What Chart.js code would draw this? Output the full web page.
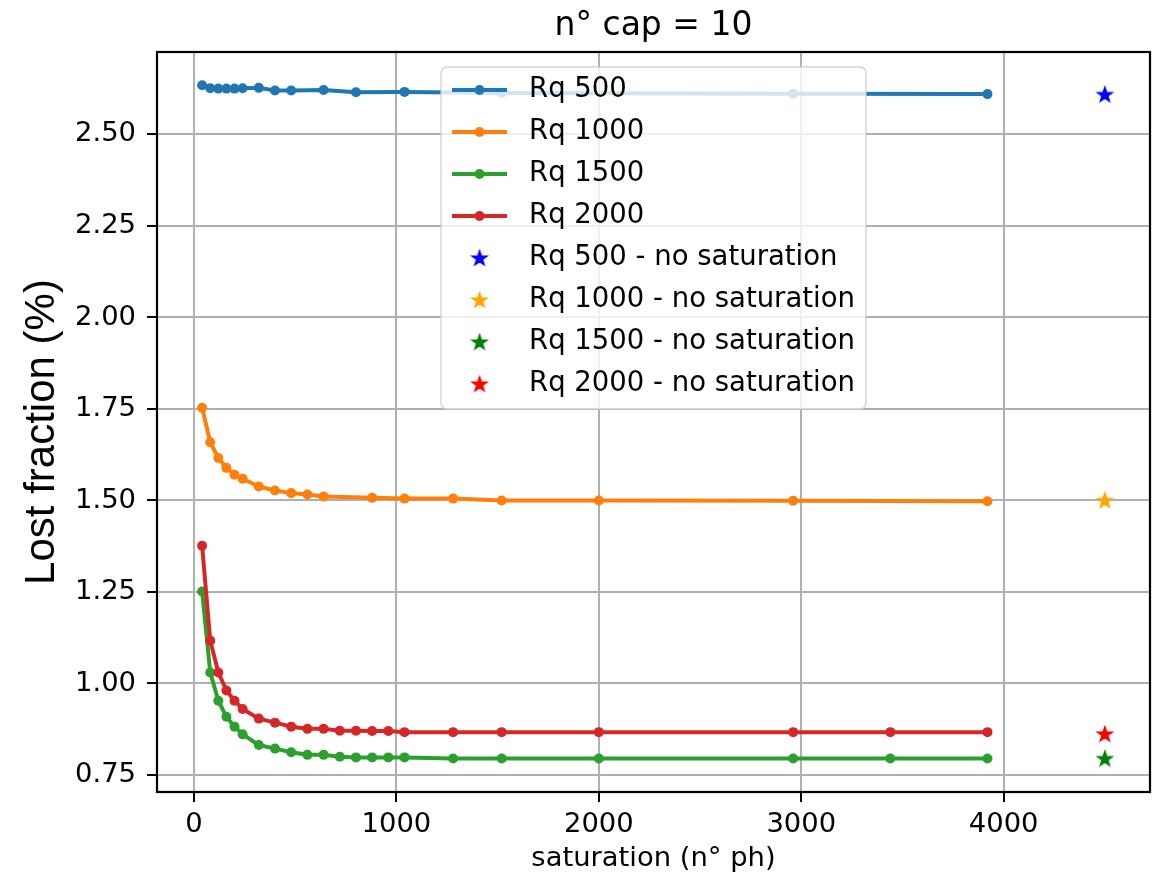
<!DOCTYPE html>
<html>
<head>
<meta charset="utf-8">
<script src="https://cdn.jsdelivr.net/npm/chart.js@4.4.1/dist/chart.umd.min.js"></script>
<style>
  html, body { margin: 0; padding: 0; background: #fff; }
  #wrap { width: 1161px; height: 880px; }
</style>
</head>
<body>
<div id="wrap"><canvas id="chart" width="1161" height="880"></canvas></div>
<script>
'use strict';

var titleText = 'n° cap = 10';
var xLabel = 'saturation (n° ph)';
var yLabel = 'Lost fraction (%)';

var xTicks = [0, 1000, 2000, 3000, 4000];
var yTicks = [0.75, 1.00, 1.25, 1.50, 1.75, 2.00, 2.25, 2.50];
var xRange = [-183, 4723];
var yRange = [0.7035, 2.725];

// saturation points for each run
var rq500X = [40, 80, 120, 160, 200, 240, 320, 400, 480, 640, 800, 1040, 1520, 2960, 3920];
var rq500Y = [2.634, 2.626, 2.625, 2.625, 2.625, 2.626, 2.627, 2.620, 2.620, 2.621, 2.615, 2.616, 2.613, 2.611, 2.610];

var rq1000X = [40, 80, 120, 160, 200, 240, 320, 400, 480, 560, 640, 880, 1040, 1280, 1520, 2000, 2960, 3920];
var rq1000Y = [1.753, 1.659, 1.616, 1.589, 1.570, 1.559, 1.538, 1.527, 1.520, 1.516, 1.511, 1.507, 1.505, 1.505, 1.500, 1.500, 1.499, 1.498];

var rq1500X = [40, 80, 120, 160, 200, 240, 320, 400, 480, 560, 640, 720, 800, 880, 960, 1040, 1280, 1520, 2000, 2960, 3440, 3920];
var rq1500Y = [1.251, 1.030, 0.953, 0.909, 0.882, 0.861, 0.832, 0.822, 0.812, 0.805, 0.805, 0.800, 0.798, 0.798, 0.798, 0.798, 0.795, 0.795, 0.795, 0.795, 0.795, 0.795];

var rq2000X = [40, 80, 120, 160, 200, 240, 320, 400, 480, 560, 640, 720, 800, 880, 960, 1040, 1280, 1520, 2000, 2960, 3440, 3920];
var rq2000Y = [1.376, 1.117, 1.030, 0.981, 0.953, 0.930, 0.904, 0.893, 0.882, 0.876, 0.876, 0.871, 0.871, 0.870, 0.870, 0.867, 0.867, 0.867, 0.867, 0.867, 0.867, 0.867];

// no saturation reference values
var noSatX = 4500;
var noSatY = [2.609, 1.500, 0.795, 0.862];

var lineLabels = ['Rq 500', 'Rq 1000', 'Rq 1500', 'Rq 2000'];
var lineColors = ['#1f77b4', '#ff7f0e', '#2ca02c', '#d62728'];
var starColors = ['#0000ff', '#ffa500', '#008000', '#ff0000'];

var FONT = 'DejaVu Sans';

function pairs(xs, ys) {
    return xs.map(function(x, i) { return { x: x, y: ys[i] }; });
}

function starImage(color) {
    var c = document.createElement('canvas');
    c.width = 22;
    c.height = 22;
    var g = c.getContext('2d');
    g.beginPath();
    for (var i = 0; i < 10; i++) {
        var r = i % 2 === 0 ? 7.8 : 3.1;
        var a = -Math.PI / 2 + i * Math.PI / 5;
        var px = 11 + r * Math.cos(a), py = 11.5 + r * Math.sin(a);
        if (i === 0) g.moveTo(px, py); else g.lineTo(px, py);
    }
    g.closePath();
    g.fillStyle = color;
    g.fill();
    g.lineWidth = 1.4;
    g.strokeStyle = color;
    g.stroke();
    return c;
}

var lineXs = [rq500X, rq1000X, rq1500X, rq2000X];
var lineYs = [rq500Y, rq1000Y, rq1500Y, rq2000Y];

var datasets = [];
lineLabels.forEach(function(lbl, i) {
    datasets.push({
        label: lbl,
        data: pairs(lineXs[i], lineYs[i]),
        showLine: true,
        borderColor: lineColors[i],
        backgroundColor: lineColors[i],
        borderWidth: 4,
        pointRadius: 5,
        pointBorderWidth: 0,
        pointBackgroundColor: lineColors[i],
        borderJoinStyle: 'round',
        order: 20 - i
    });
});
lineLabels.forEach(function(lbl, i) {
    datasets.push({
        label: lbl + ' - no saturation',
        data: [{ x: noSatX, y: noSatY[i] }],
        showLine: false,
        pointStyle: starImage(starColors[i]),
        backgroundColor: starColors[i],
        borderColor: starColors[i],
        isStar: true,
        order: 10 - i
    });
});

// title and y label centred on the axes box, like matplotlib
var axesText = {
    id: 'axesText',
    afterDraw: function(chart) {
        var a = chart.chartArea, ctx = chart.ctx;
        ctx.save();
        ctx.fillStyle = '#000';
        ctx.textAlign = 'center';
        ctx.textBaseline = 'alphabetic';
        ctx.font = '33px "' + FONT + '"';
        ctx.fillText(titleText, (a.left + a.right) / 2, 35);

        ctx.translate(54, 432);
        ctx.rotate(-Math.PI / 2);
        ctx.font = '42px "Liberation Sans"';
        ctx.fillText(yLabel, 0, 0);
        ctx.restore();
    }
};

var frameBox = {
    id: 'frameBox',
    afterDatasetsDraw: function(chart) {
        var a = chart.chartArea, ctx = chart.ctx;
        ctx.save();
        ctx.strokeStyle = '#000';
        ctx.lineWidth = 2.2;
        ctx.strokeRect(a.left, a.top, a.right - a.left, a.bottom - a.top);
        ctx.restore();
    }
};

// matplotlib style legend drawn inside the plot, upper center
var innerLegend = {
    id: 'innerLegend',
    afterDraw: function(chart) {
        var ctx = chart.ctx, a = chart.chartArea;
        var fs = 27.5;
        ctx.save();
        ctx.font = fs + 'px "' + FONT + '"';
        var items = chart.data.datasets;
        var textW = 0;
        items.forEach(function(d) { textW = Math.max(textW, ctx.measureText(d.label).width); });
        var pad = 11, handleLen = 55, handlePad = 22, rowH = 42;
        var w = pad + handleLen + handlePad + textW + pad;
        var h = 23 + rowH * (items.length - 1) + 25;
        var left = (a.left + a.right) / 2 - w / 2;
        var top = a.top + 15;

        ctx.beginPath();
        ctx.roundRect(left, top, w, h, 6);
        ctx.fillStyle = 'rgba(255,255,255,0.8)';
        ctx.fill();
        ctx.lineWidth = 1.5;
        ctx.strokeStyle = 'rgba(204,204,204,0.8)';
        ctx.stroke();

        items.forEach(function(d, i) {
            var cy = top + 23 + rowH * i;
            var hx0 = left + pad, hx1 = hx0 + handleLen, hc = (hx0 + hx1) / 2;
            if (d.isStar) {
                var img = d.pointStyle;
                ctx.drawImage(img, hc - img.width / 2, cy - img.height / 2);
            } else {
                ctx.strokeStyle = d.borderColor;
                ctx.lineWidth = 4;
                ctx.beginPath();
                ctx.moveTo(hx0, cy);
                ctx.lineTo(hx1, cy);
                ctx.stroke();
                ctx.fillStyle = d.borderColor;
                ctx.beginPath();
                ctx.arc(hc, cy, 5, 0, Math.PI * 2);
                ctx.fill();
            }
            ctx.fillStyle = '#000';
            ctx.textBaseline = 'middle';
            ctx.textAlign = 'left';
            ctx.fillText(d.label, hx1 + handlePad, cy);
        });
        ctx.restore();
    }
};

var gridStyle = {
    color: '#b0b0b0',
    lineWidth: 2,
    tickColor: '#000',
    tickWidth: 2,
    tickLength: 10
};

new Chart(document.getElementById('chart'), {
    type: 'scatter',
    data: { datasets: datasets },
    plugins: [frameBox, axesText, innerLegend],
    options: {
        responsive: false,
        animation: false,
        events: [],
        layout: { padding: { left: 0, right: 11, top: 52, bottom: 0 } },
        plugins: {
            legend: { display: false },
            tooltip: { enabled: false },
            title: { display: false }
        },
        scales: {
            x: {
                type: 'linear',
                min: xRange[0],
                max: xRange[1],
                afterBuildTicks: function(s) { s.ticks = xTicks.map(function(v) { return { value: v }; }); },
                afterFit: function(s) { s.height = 88; },
                grid: gridStyle,
                border: { display: false },
                ticks: {
                    color: '#000',
                    font: { family: FONT, size: 27.4 },
                    padding: 6,
                    maxRotation: 0,
                    autoSkip: false,
                    callback: function(v) { return String(v); }
                },
                title: {
                    display: true,
                    text: xLabel,
                    color: '#000',
                    font: { family: FONT, size: 27.4 },
                    padding: { top: 0, bottom: 5 }
                }
            },
            y: {
                type: 'linear',
                min: yRange[0],
                max: yRange[1],
                afterBuildTicks: function(s) { s.ticks = yTicks.map(function(v) { return { value: v }; }); },
                afterFit: function(s) { s.width = 157; },
                grid: gridStyle,
                border: { display: false },
                ticks: {
                    color: '#000',
                    font: { family: FONT, size: 27.4 },
                    padding: 11,
                    autoSkip: false,
                    callback: function(v) { return v.toFixed(2); }
                },
                title: { display: false }
            }
        }
    }
});
</script>
</body>
</html>
